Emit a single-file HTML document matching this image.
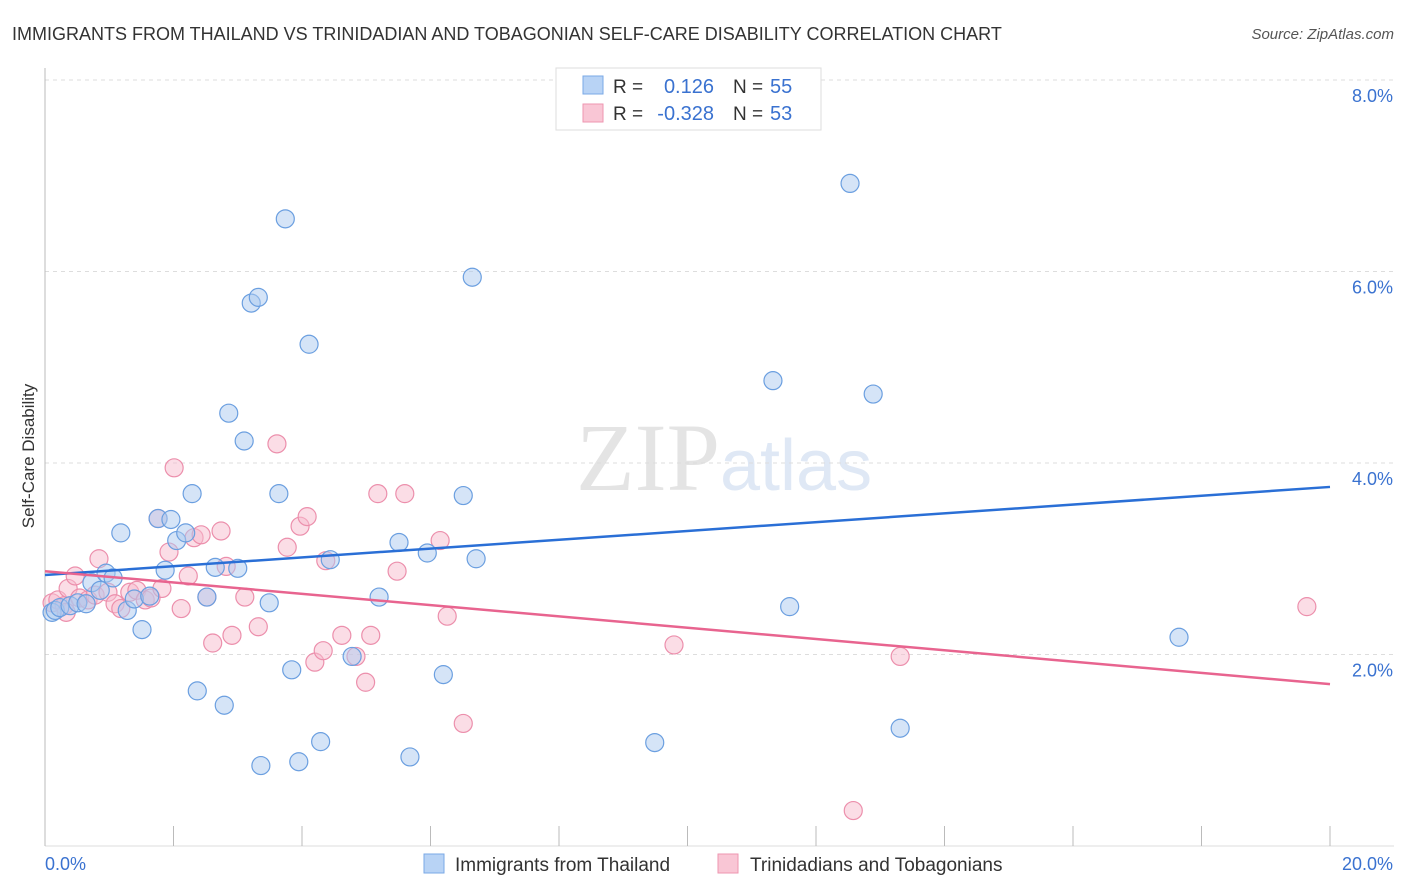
<!DOCTYPE html>
<html><head><meta charset="utf-8"><style>
body{margin:0;background:#fff;font-family:"Liberation Sans",sans-serif;}
svg{display:block}
</style></head><body>
<svg id="chart" width="1406" height="892">
<text x="12" y="40" font-size="18" fill="#333">IMMIGRANTS FROM THAILAND VS TRINIDADIAN AND TOBAGONIAN SELF-CARE DISABILITY CORRELATION CHART</text>
<text x="1394" y="39" font-size="15" fill="#555" font-style="italic" text-anchor="end">Source: ZipAtlas.com</text>
<text x="720" y="490" font-size="96" fill="#e4e4e4" font-family="Liberation Serif,serif" text-anchor="end">ZIP</text>
<text x="720" y="490" font-size="72" fill="#dfe8f5">atlas</text>
<text transform="translate(34,456) rotate(-90)" font-size="17" fill="#333" text-anchor="middle">Self-Care Disability</text>
<g id="grid"></g><g id="marks"></g>
<g>
<rect x="556" y="68" width="265" height="62" fill="#fff" stroke="#ddd"/>
<rect x="583" y="76" width="20" height="18" fill="#b8d3f5" stroke="#7aa8e6"/>
<rect x="583" y="104" width="20" height="18" fill="#f9c6d5" stroke="#ee96b0"/>
<text x="613" y="93" font-size="19" fill="#333">R =</text><text x="714" y="93" font-size="20" fill="#3a72d0" text-anchor="end">0.126</text>
<text x="733" y="93" font-size="19" fill="#333">N =</text><text x="770" y="93" font-size="20" fill="#3a72d0">55</text>
<text x="613" y="120" font-size="19" fill="#333">R =</text><text x="714" y="120" font-size="20" fill="#3a72d0" text-anchor="end">-0.328</text>
<text x="733" y="120" font-size="19" fill="#333">N =</text><text x="770" y="120" font-size="20" fill="#3a72d0">53</text>
</g>
<g>
<rect x="424" y="854" width="20" height="19" fill="#b8d3f5" stroke="#7aa8e6"/>
<text x="455" y="871" font-size="19" fill="#333">Immigrants from Thailand</text>
<rect x="718" y="854" width="20" height="19" fill="#f9c6d5" stroke="#ee96b0"/>
<text x="750" y="871" font-size="19" fill="#333">Trinidadians and Tobagonians</text>
</g>
<text x="45" y="870" font-size="18" fill="#3a72d0">0.0%</text>
<text x="1393" y="870" font-size="18" fill="#3a72d0" text-anchor="end">20.0%</text>
</svg>
<script>
const blueX=[0.11,0.16,0.23,0.39,0.51,0.64,0.73,0.86,0.95,1.06,1.18,1.28,1.39,1.51,1.63,1.76,1.87,1.96,2.05,2.19,2.29,2.37,2.52,2.65,2.79,2.86,3.0,3.1,3.21,3.32,3.36,3.49,3.64,3.74,3.84,3.95,4.11,4.29,4.44,4.78,5.2,5.51,5.68,5.95,6.2,6.51,6.65,6.71,9.49,11.33,11.59,12.53,12.89,13.31,17.65];
const blueY=[2.44,2.46,2.49,2.51,2.54,2.53,2.75,2.67,2.85,2.8,3.27,2.46,2.58,2.26,2.61,3.42,2.88,3.41,3.19,3.27,3.68,1.62,2.6,2.91,1.47,4.52,2.9,4.23,5.67,5.73,0.84,2.54,3.68,6.55,1.84,0.88,5.24,1.09,2.99,1.98,2.6,3.17,0.93,3.06,1.79,3.66,5.94,3.0,1.08,4.86,2.5,6.92,4.72,1.23,2.18];
const pinkX=[0.11,0.2,0.3,0.36,0.47,0.54,0.67,0.78,0.84,0.98,1.09,1.18,1.32,1.43,1.56,1.65,1.76,1.82,1.93,2.01,2.12,2.23,2.32,2.52,2.43,2.61,2.74,2.82,2.91,3.11,3.32,3.61,3.77,3.97,4.08,4.2,4.33,4.37,4.62,4.84,4.99,5.07,5.18,5.48,5.6,6.15,6.26,6.51,9.79,12.58,13.31,19.64,0.33];
const pinkY=[2.54,2.57,2.51,2.69,2.82,2.59,2.57,2.62,3.0,2.65,2.53,2.48,2.65,2.67,2.57,2.59,3.42,2.69,3.07,3.95,2.48,2.82,3.22,2.6,3.25,2.12,3.29,2.92,2.2,2.6,2.29,4.2,3.12,3.34,3.44,1.92,2.04,2.98,2.2,1.98,1.71,2.2,3.68,2.87,3.68,3.19,2.4,1.28,2.1,0.37,1.98,2.5,2.44];
const trendX=[0,20];
const blueTrend=[2.83,3.75];
const pinkTrend=[2.87,1.69];
const yTicks=[2,4,6,8];
const yTickLabels=["2.0%","4.0%","6.0%","8.0%"];
const xTicks=[0,2,4,6,8,10,12,14,16,18,20];
const ns="http://www.w3.org/2000/svg";
const X=v=>45+v/20*1285, Y=v=>846-v*95.75;
function mk(t,a,p){const e=document.createElementNS(ns,t);for(const k in a)e.setAttribute(k,a[k]);p.appendChild(e);return e;}
const grid=document.getElementById('grid'),marks=document.getElementById('marks');
yTicks.forEach((t,i)=>{
 const l=mk('line',{x1:45,x2:1394,y1:Y(t),y2:Y(t),stroke:'#ddd','stroke-dasharray':'4,4'},grid);
 
 
 const tx=mk('text',{x:1393,y:Y(t)+22,'font-size':18,fill:'#3a72d0','text-anchor':'end'},grid);
 tx.textContent=yTickLabels[i];
 
 
});
const ya=mk('line',{x1:45,x2:45,y1:68,y2:846,stroke:'#bbb'},grid);


const xa=mk('line',{x1:45,x2:1394,y1:846,y2:846,stroke:'#ddd'},grid);


xTicks.forEach(t=>{
 const l=mk('line',{x1:X(t),x2:X(t),y1:826,y2:846,stroke:'#bbb'},grid);
 
 
});
function pts(xs,ys,fill,stroke,name){xs.forEach((x,i)=>{
 const c=mk('circle',{cx:X(x),cy:Y(ys[i]),r:9,fill:fill,'fill-opacity':0.5,stroke:stroke,'stroke-width':1.2},marks);
 
 
});}
pts(pinkX,pinkY,'#f7bccd','#ec8fac','point-trinidad');
pts(blueX,blueY,'#abc9f0','#6b9fe0','point-thailand');
const bl=mk('line',{x1:X(trendX[0]),y1:Y(blueTrend[0]),x2:X(trendX[1]),y2:Y(blueTrend[1]),stroke:'#2a6fd6','stroke-width':2.5},marks);


const pl=mk('line',{x1:X(trendX[0]),y1:Y(pinkTrend[0]),x2:X(trendX[1]),y2:Y(pinkTrend[1]),stroke:'#e8648f','stroke-width':2.5},marks);


</script>
</body></html>
